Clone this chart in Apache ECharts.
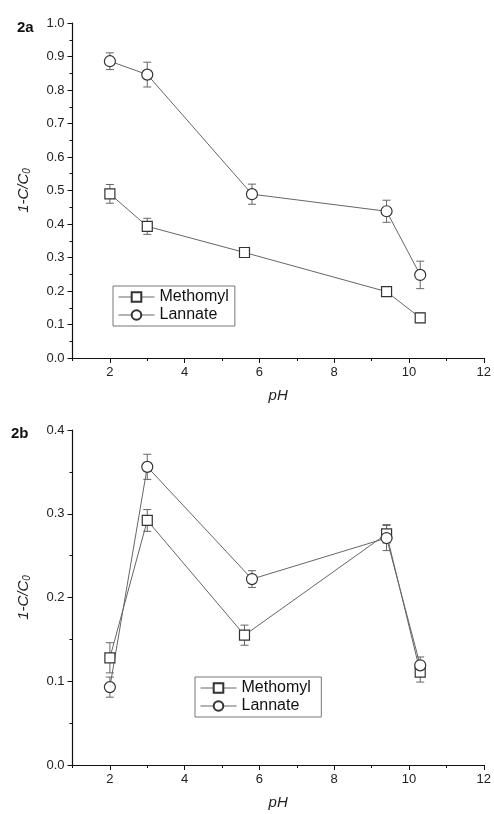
<!DOCTYPE html>
<html>
<head>
<meta charset="utf-8">
<script src="https://cdn.jsdelivr.net/npm/echarts@6/dist/echarts.min.js"></script>
<style>html,body{margin:0;padding:0;background:#fff;}#c{width:494px;height:814px;}</style>
</head>
<body>
<div id="c"></div>
<script>
// ---- data ----
const xTickLabels = [2, 4, 6, 8, 10, 12];
const xMinorTicks = [1, 3, 5, 7, 9, 11];
// Panel 2a
const a_methomylX = [2, 3, 5.6, 9.4, 10.3];
const a_methomylY = [0.49, 0.393, 0.315, 0.198, 0.12];
const a_methomylErr = [0.028, 0.024, 0.008, 0.008, 0.014];
const a_lannateX = [2, 3, 5.8, 9.4, 10.3];
const a_lannateY = [0.886, 0.846, 0.489, 0.438, 0.248];
const a_lannateErr = [0.025, 0.037, 0.03, 0.033, 0.041];
// Panel 2b
const b_methomylX = [2, 3, 5.6, 9.4, 10.3];
const b_methomylY = [0.128, 0.292, 0.155, 0.276, 0.111];
const b_methomylErr = [0.018, 0.013, 0.012, 0.011, 0.012];
const b_lannateX = [2, 3, 5.8, 9.4, 10.3];
const b_lannateY = [0.093, 0.356, 0.222, 0.271, 0.119];
const b_lannateErr = [0.012, 0.015, 0.01, 0.015, 0.01];

const FONT = 'Liberation Sans, Arial, sans-serif';
const LINE = '#666';
const MARK = '#333';

function pts(xs, ys) { return xs.map((x, i) => [x, ys[i]]); }
function errPts(xs, ys, es) { return xs.map((x, i) => [x, ys[i] - es[i], ys[i] + es[i]]); }

function errSeries(name, xs, ys, es, idx) {
  return {
    type: 'custom', name: name + '_err', xAxisIndex: idx * 2, yAxisIndex: idx,
    data: errPts(xs, ys, es), z: 1, silent: true,
    renderItem: function (params, api) {
      const x = api.value(0), lo = api.value(1), hi = api.value(2);
      const p1 = api.coord([x, lo]), p2 = api.coord([x, hi]);
      const w = 4;
      const st = { stroke: LINE, lineWidth: 1, fill: null };
      return {
        type: 'group', children: [
          { type: 'line', shape: { x1: p1[0], y1: p1[1], x2: p2[0], y2: p2[1] }, style: st },
          { type: 'line', shape: { x1: p1[0] - w, y1: p1[1], x2: p1[0] + w, y2: p1[1] }, style: st },
          { type: 'line', shape: { x1: p2[0] - w, y1: p2[1], x2: p2[0] + w, y2: p2[1] }, style: st }
        ]
      };
    }
  };
}

function lineSeries(name, xs, ys, symbol, idx) {
  return {
    type: 'line', name: name, xAxisIndex: idx * 2, yAxisIndex: idx,
    data: pts(xs, ys), symbol: symbol, symbolSize: symbol === 'rect' ? 10 : 11,
    showAllSymbol: true, z: 3,
    lineStyle: { color: LINE, width: 1 },
    itemStyle: { color: '#fff', borderColor: MARK, borderWidth: 1.2 },
    emphasis: { disabled: true }, animation: false
  };
}

const grids = [
  { left: 72.5, right: 8.5, top: 23, bottom: 456 },
  { left: 72.5, right: 8.5, top: 430, bottom: 49 }
];

function xAxes(gi) {
  return [
    {
      type: 'value', gridIndex: gi, min: 1, max: 12,
      name: 'pH', nameLocation: 'middle', nameGap: 30,
      nameTextStyle: { fontFamily: FONT, fontSize: 15, fontStyle: 'italic', color: '#222' },
      axisLine: { lineStyle: { color: '#111', width: 1.2 } },
      axisTick: { show: true, length: 5, customValues: xTickLabels, lineStyle: { color: '#111' } },
      axisLabel: { customValues: xTickLabels, fontFamily: FONT, fontSize: 13, color: '#222', margin: 8 },
      splitLine: { show: false }
    },
    {
      type: 'value', gridIndex: gi, min: 1, max: 12, position: 'bottom',
      axisLine: { show: false },
      axisTick: { show: true, length: 3, customValues: xMinorTicks, lineStyle: { color: '#111' } },
      axisLabel: { show: false }, splitLine: { show: false }
    }
  ];
}

function yAxis(gi, max) {
  return {
    type: 'value', gridIndex: gi, min: 0, max: max, interval: 0.1,
    name: '{a|1-C/C}{s|0}', nameLocation: 'middle', nameGap: 40,
    nameTextStyle: {
      fontFamily: FONT, fontSize: 15, fontStyle: 'italic', color: '#222',
      rich: {
        a: { fontFamily: FONT, fontSize: 15, fontStyle: 'italic', color: '#222' },
        s: { fontFamily: FONT, fontSize: 10, fontStyle: 'italic', color: '#222', verticalAlign: 'bottom', padding: [7, 0, 0, 0] }
      }
    },
    axisLine: { show: true, lineStyle: { color: '#111', width: 1.2 } },
    axisTick: { show: true, length: 5, lineStyle: { color: '#111' } },
    minorTick: { show: true, splitNumber: 2, length: 3, lineStyle: { color: '#111' } },
    axisLabel: { fontFamily: FONT, fontSize: 13, color: '#222', margin: 8, formatter: v => v.toFixed(1) },
    splitLine: { show: false }, minorSplitLine: { show: false }
  };
}

function legend(left, top, gi) {
  return {
    left: left, top: top, orient: 'vertical',
    data: gi === 0 ? ['Methomyl', 'Lannate'] : ['Methomyl ', 'Lannate '],
    borderColor: '#777', borderWidth: 1, borderRadius: 0,
    padding: [3, 6, 3, 5], itemGap: 2, itemWidth: 36, itemHeight: 12,
    lineStyle: { width: 1 },
    textStyle: { fontFamily: FONT, fontSize: 16, color: '#111' },
    selectedMode: false
  };
}

const option = {
  animation: false,
  backgroundColor: '#fff',
  title: [
    { text: '2a', left: 12, top: 15, textStyle: { fontFamily: FONT, fontSize: 15, fontWeight: 'bold', color: '#111' } },
    { text: '2b', left: 6, top: 421, textStyle: { fontFamily: FONT, fontSize: 15, fontWeight: 'bold', color: '#111' } }
  ],
  grid: grids,
  xAxis: [].concat(xAxes(0), xAxes(1)),
  yAxis: [yAxis(0, 1.0), yAxis(1, 0.4)],
  legend: [legend(113, 286, 0), legend(195, 677, 1)],
  series: [
    errSeries('Methomyl', a_methomylX, a_methomylY, a_methomylErr, 0),
    errSeries('Lannate', a_lannateX, a_lannateY, a_lannateErr, 0),
    lineSeries('Methomyl', a_methomylX, a_methomylY, 'rect', 0),
    lineSeries('Lannate', a_lannateX, a_lannateY, 'circle', 0),
    errSeries('Methomyl ', b_methomylX, b_methomylY, b_methomylErr, 1),
    errSeries('Lannate ', b_lannateX, b_lannateY, b_lannateErr, 1),
    lineSeries('Methomyl ', b_methomylX, b_methomylY, 'rect', 1),
    lineSeries('Lannate ', b_lannateX, b_lannateY, 'circle', 1)
  ]
};
const chart = echarts.init(document.getElementById('c'), null, { renderer: 'canvas' });
chart.setOption(option);
</script>
</body>
</html>
